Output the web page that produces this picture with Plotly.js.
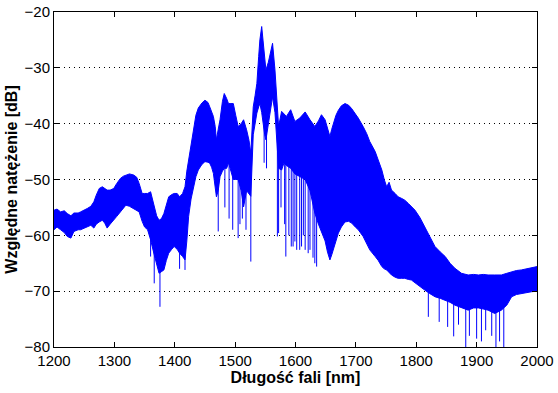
<!DOCTYPE html>
<html>
<head>
<meta charset="utf-8">
<script src="https://cdn.plot.ly/plotly-3.0.1.min.js"></script>
<style>html,body{margin:0;padding:0;background:#fff;}#chart{width:558px;height:393px;}</style>
</head>
<body>
<div id="chart"></div>
<script>
// Wavelength sample points [nm] for the band envelopes
const wavelength = [1200,1205,1211,1217,1222,1228,1233,1240,1244,1250,1255,1261,1266,1270,1275,1280,1284,1288,1293,1299,1304,1310,1315,1319,1325,1332,1337,1341,1346,1350,1355,1360,1366,1370,1374,1378,1382,1386,1390,1395,1399,1404,1408,1413,1417,1420,1423,1427,1431,1435,1439,1445,1450,1455,1458,1461,1464,1467,1469,1472,1475,1479,1482,1486,1489,1493,1497,1501,1505,1510,1514,1519,1523,1526,1530,1533,1536,1539,1541,1544,1547,1549,1551,1555,1558,1562,1566,1569,1572,1577,1581,1585,1592,1599,1607,1616,1624,1632,1638,1643,1649,1653,1657,1660,1663,1667,1671,1676,1682,1688,1693,1699,1704,1712,1718,1723,1732,1737,1743,1747,1751,1755,1759,1765,1770,1776,1781,1787,1792,1798,1806,1814,1822,1831,1840,1848,1856,1864,1875,1886,1895,1903,1911,1919,1930,1941,1950,1958,1966,1974,1983,1991,2000];
// Upper envelope of the fringe band [dB]
const upperDb = [-55.5,-55.3,-55.8,-55.6,-56.1,-56.5,-56.0,-56.0,-55.8,-55.5,-55.2,-54.8,-54.0,-52.8,-51.6,-51.3,-51.6,-51.9,-51.9,-51.6,-50.7,-49.8,-49.4,-49.2,-49.0,-49.2,-49.6,-50.7,-52.5,-52.5,-52.5,-52.2,-54.9,-56.5,-57.3,-57.0,-56.1,-54.5,-53.1,-52.7,-52.5,-52.5,-53.1,-52.5,-51.3,-48.5,-46.5,-43.0,-40.5,-38.5,-37.2,-36.3,-35.8,-36.2,-37.0,-37.8,-38.7,-40.5,-42.9,-41.0,-39.3,-36.0,-34.6,-35.5,-36.4,-36.4,-36.4,-38.5,-40.5,-40.0,-39.3,-41.1,-43.0,-45.3,-37.0,-35.0,-32.8,-28.0,-25.0,-22.6,-25.6,-28.0,-30.4,-29.0,-27.4,-25.6,-30.4,-36.0,-40.5,-37.8,-38.2,-38.7,-37.5,-39.6,-39.0,-37.9,-39.3,-40.5,-39.5,-38.4,-39.3,-40.8,-42.3,-41.0,-39.9,-38.5,-37.6,-36.8,-36.4,-36.7,-37.3,-38.2,-39.0,-40.5,-41.8,-43.2,-45.0,-46.5,-48.3,-50.0,-51.3,-50.5,-51.9,-52.5,-53.1,-53.4,-53.7,-54.3,-54.9,-55.5,-56.8,-58.5,-60.3,-62.0,-63.0,-63.8,-65.0,-65.9,-66.8,-67.1,-67.0,-67.1,-67.0,-67.1,-67.1,-67.1,-66.8,-66.5,-66.3,-66.2,-66.0,-65.9,-65.6];
// Lower envelope of the fringe band [dB]
const lowerDb = [-59.0,-58.5,-59.0,-59.5,-60.2,-60.5,-59.3,-59.0,-59.0,-58.7,-58.5,-58.2,-58.7,-58.0,-57.6,-57.3,-57.8,-58.7,-58.0,-57.3,-56.6,-55.8,-55.0,-54.6,-54.8,-55.2,-55.5,-55.8,-57.5,-58.5,-59.0,-60.8,-63.5,-65.0,-66.8,-66.5,-66.2,-64.5,-63.2,-62.5,-62.0,-62.5,-63.2,-63.8,-64.4,-61.0,-56.6,-53.5,-51.3,-49.5,-48.3,-47.3,-46.8,-46.9,-47.1,-47.8,-48.9,-51.0,-53.1,-52.0,-49.5,-48.5,-48.0,-48.0,-47.0,-48.5,-50.0,-50.0,-50.0,-52.0,-54.9,-52.0,-52.5,-53.0,-42.0,-40.0,-38.1,-37.0,-36.4,-38.0,-41.1,-42.0,-42.9,-40.0,-38.1,-35.2,-38.0,-44.0,-48.0,-48.3,-47.0,-47.5,-48.0,-49.0,-49.5,-50.0,-52.0,-56.0,-58.0,-59.5,-61.0,-63.0,-64.4,-63.5,-62.5,-61.0,-59.6,-58.5,-57.6,-57.5,-57.8,-58.5,-59.0,-60.2,-61.5,-62.6,-63.8,-64.5,-65.6,-66.0,-66.2,-66.6,-67.1,-67.5,-67.7,-67.7,-67.7,-67.9,-68.0,-68.5,-69.2,-69.8,-70.4,-71.0,-71.3,-71.6,-72.0,-72.5,-73.0,-73.4,-73.0,-73.0,-73.2,-73.4,-74.0,-73.4,-72.5,-71.0,-70.6,-70.4,-70.2,-70.1,-70.0];
// Isolated deep fringe minima: wavelength [nm], start and end level [dB]
const spikeNm = [1360,1366,1375.5,1408,1417,1472,1483,1490,1496,1505,1508,1512,1518,1526,1548,1552,1570,1572,1576,1582,1584,1589,1593,1596,1599,1602,1607,1610,1613,1616,1621,1624,1629,1632,1635,1820,1838,1852,1862,1870,1882,1888,1900,1908,1915,1925,1932,1938,1945];
const spikeTopDb = [-58,-62,-64,-62,-62,-50,-46,-45,-48,-48,-50,-52,-50,-48,-40,-41,-42,-45,-46,-46,-46,-46,-46,-47,-47,-48,-48,-48,-49,-49,-49,-50,-52,-54,-55,-70,-71,-71,-72,-72,-73,-73,-73,-73,-73,-73,-73,-73,-73];
const spikeBottomDb = [-63.8,-68.6,-72.8,-66.0,-66.2,-59.3,-55.0,-57.0,-59.0,-60.5,-58.0,-57.0,-59.0,-64.7,-47.0,-48.0,-60.2,-59.6,-55.0,-58.0,-63.8,-60.0,-62.0,-62.0,-61.1,-62.6,-62.6,-62.0,-60.0,-62.6,-63.2,-62.6,-64.0,-65.0,-65.6,-74.6,-75.5,-76.4,-78.1,-76.0,-80.0,-78.0,-78.5,-79.0,-77.0,-78.0,-80.0,-79.0,-80.0];

const blue = 'rgb(0,0,255)';
const sx = [], sy = [];
for (let i = 0; i < spikeNm.length; i++) {
  sx.push(spikeNm[i], spikeNm[i], null);
  sy.push(spikeTopDb[i], spikeBottomDb[i], null);
}
const traces = [
  {x: wavelength, y: lowerDb, type: 'scatter', mode: 'lines', line: {color: blue, width: 1}, hoverinfo: 'skip'},
  {x: wavelength, y: upperDb, type: 'scatter', mode: 'lines', line: {color: blue, width: 1}, fill: 'tonexty', fillcolor: blue, hoverinfo: 'skip'},
  {x: sx, y: sy, type: 'scatter', mode: 'lines', line: {color: blue, width: 1}, hoverinfo: 'skip'}
];
const tickFont = {family: 'Liberation Sans, Arial, sans-serif', size: 15, color: '#000'};
const titleFont = {family: 'Liberation Sans, Arial, sans-serif', size: 16, color: '#000', weight: 'bold'};
const layout = {
  width: 558, height: 393,
  margin: {l: 54, r: 21, t: 12, b: 46},
  paper_bgcolor: '#fff', plot_bgcolor: '#fff',
  showlegend: false,
  xaxis: {
    range: [1200, 2000], dtick: 100, tick0: 1200,
    ticks: 'inside', ticklen: 5, tickcolor: '#000', mirror: 'ticks',
    showline: true, linecolor: '#000', linewidth: 1,
    showgrid: false, zeroline: false,
    tickfont: tickFont,
    title: {text: 'Długość fali [nm]', font: titleFont, standoff: 1}
  },
  yaxis: {
    range: [-80, -20], dtick: 10, tick0: -80,
    ticks: 'inside', ticklen: 5, tickcolor: '#000', mirror: 'ticks',
    showline: true, linecolor: '#000', linewidth: 1,
    showgrid: true, gridcolor: '#000', griddash: '1px,4px', gridwidth: 1,
    zeroline: false,
    tickfont: tickFont,
    title: {text: 'Względne natężenie [dB]', font: titleFont, standoff: 2}
  }
};
Plotly.newPlot('chart', traces, layout, {staticPlot: true, displayModeBar: false});
</script>
</body>
</html>
